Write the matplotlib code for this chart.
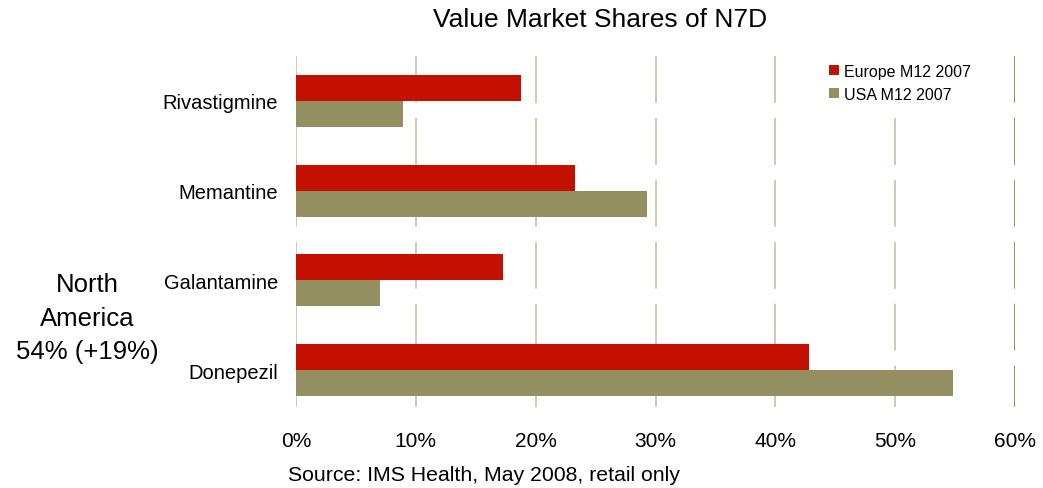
import matplotlib
matplotlib.use("Agg")
import matplotlib.pyplot as plt
import numpy as np

plt.rcParams['font.family'] = ['Liberation Sans', 'DejaVu Sans']
plt.rcParams['lines.scale_dashes'] = False

categories = ["Donepezil", "Galantamine", "Memantine", "Rivastigmine"]
europe = [42.8, 17.3, 23.3, 18.8]
usa = [54.8, 7.0, 29.3, 8.9]
series_names = ["Europe M12 2007", "USA M12 2007"]
xticks = [0, 10, 20, 30, 40, 50, 60]
xtick_labels = ["0%", "10%", "20%", "30%", "40%", "50%", "60%"]

red = "#C41000"
olive = "#948F60"

fig = plt.figure(figsize=(10.43, 4.89), dpi=100)
ax = fig.add_axes([296 / 1043, 1 - 408 / 489, (1015 - 296) / 1043, (408 - 57) / 489])

y = np.arange(len(categories))
h = 0.29
ax.barh(y + h / 2, europe, height=h, color=red, label=series_names[0], zorder=3)
ax.barh(y - h / 2, usa, height=h, color=olive, label=series_names[1], zorder=3)

ax.set_xlim(0, 60)
ax.set_ylim(-0.41, 3.5)

# dashed vertical gridlines drawn from the top down
for t in xticks:
    col = "#8F8C4E" if t == 60 else "#C8C7AC"
    ax.axvline(t, ymin=1, ymax=0, color=col, lw=1.3,
               linestyle=(0, (33.8, 10.8)), zorder=1)

for s in ax.spines.values():
    s.set_visible(False)
ax.tick_params(length=0)
ax.set_xticks(xticks)
ax.set_xticklabels(xtick_labels, fontsize=15)
ax.tick_params(axis='x', pad=17)
ax.set_yticks(y)
ax.set_yticklabels(categories, fontsize=14.5)
ax.tick_params(axis='y', pad=13)

# legend on an opaque white box that hides the gridline behind it
leg = ax.legend(loc="upper left", bbox_to_anchor=(815 / 1043, 1 - 51 / 489),
                bbox_transform=fig.transFigure, borderaxespad=0,
                frameon=True, fancybox=False, facecolor="white",
                edgecolor="none", framealpha=1, borderpad=0.85,
                fontsize=11.5, handlelength=0.65, handleheight=0.65,
                handletextpad=0.3, labelspacing=0.5)

fig.text(600 / 1043, 1 - 20 / 489, "Value Market Shares of N7D",
         ha="center", va="center", fontsize=19)
fig.text(87 / 1043, 1 - 319 / 489, "North\nAmerica\n54% (+19%)",
         ha="center", va="center", fontsize=18.5, linespacing=1.5)
fig.text(288 / 1043, 1 - 476 / 489, "Source: IMS Health, May 2008, retail only",
         ha="left", va="center", fontsize=15.3)

fig.savefig("out.png", dpi=100)
